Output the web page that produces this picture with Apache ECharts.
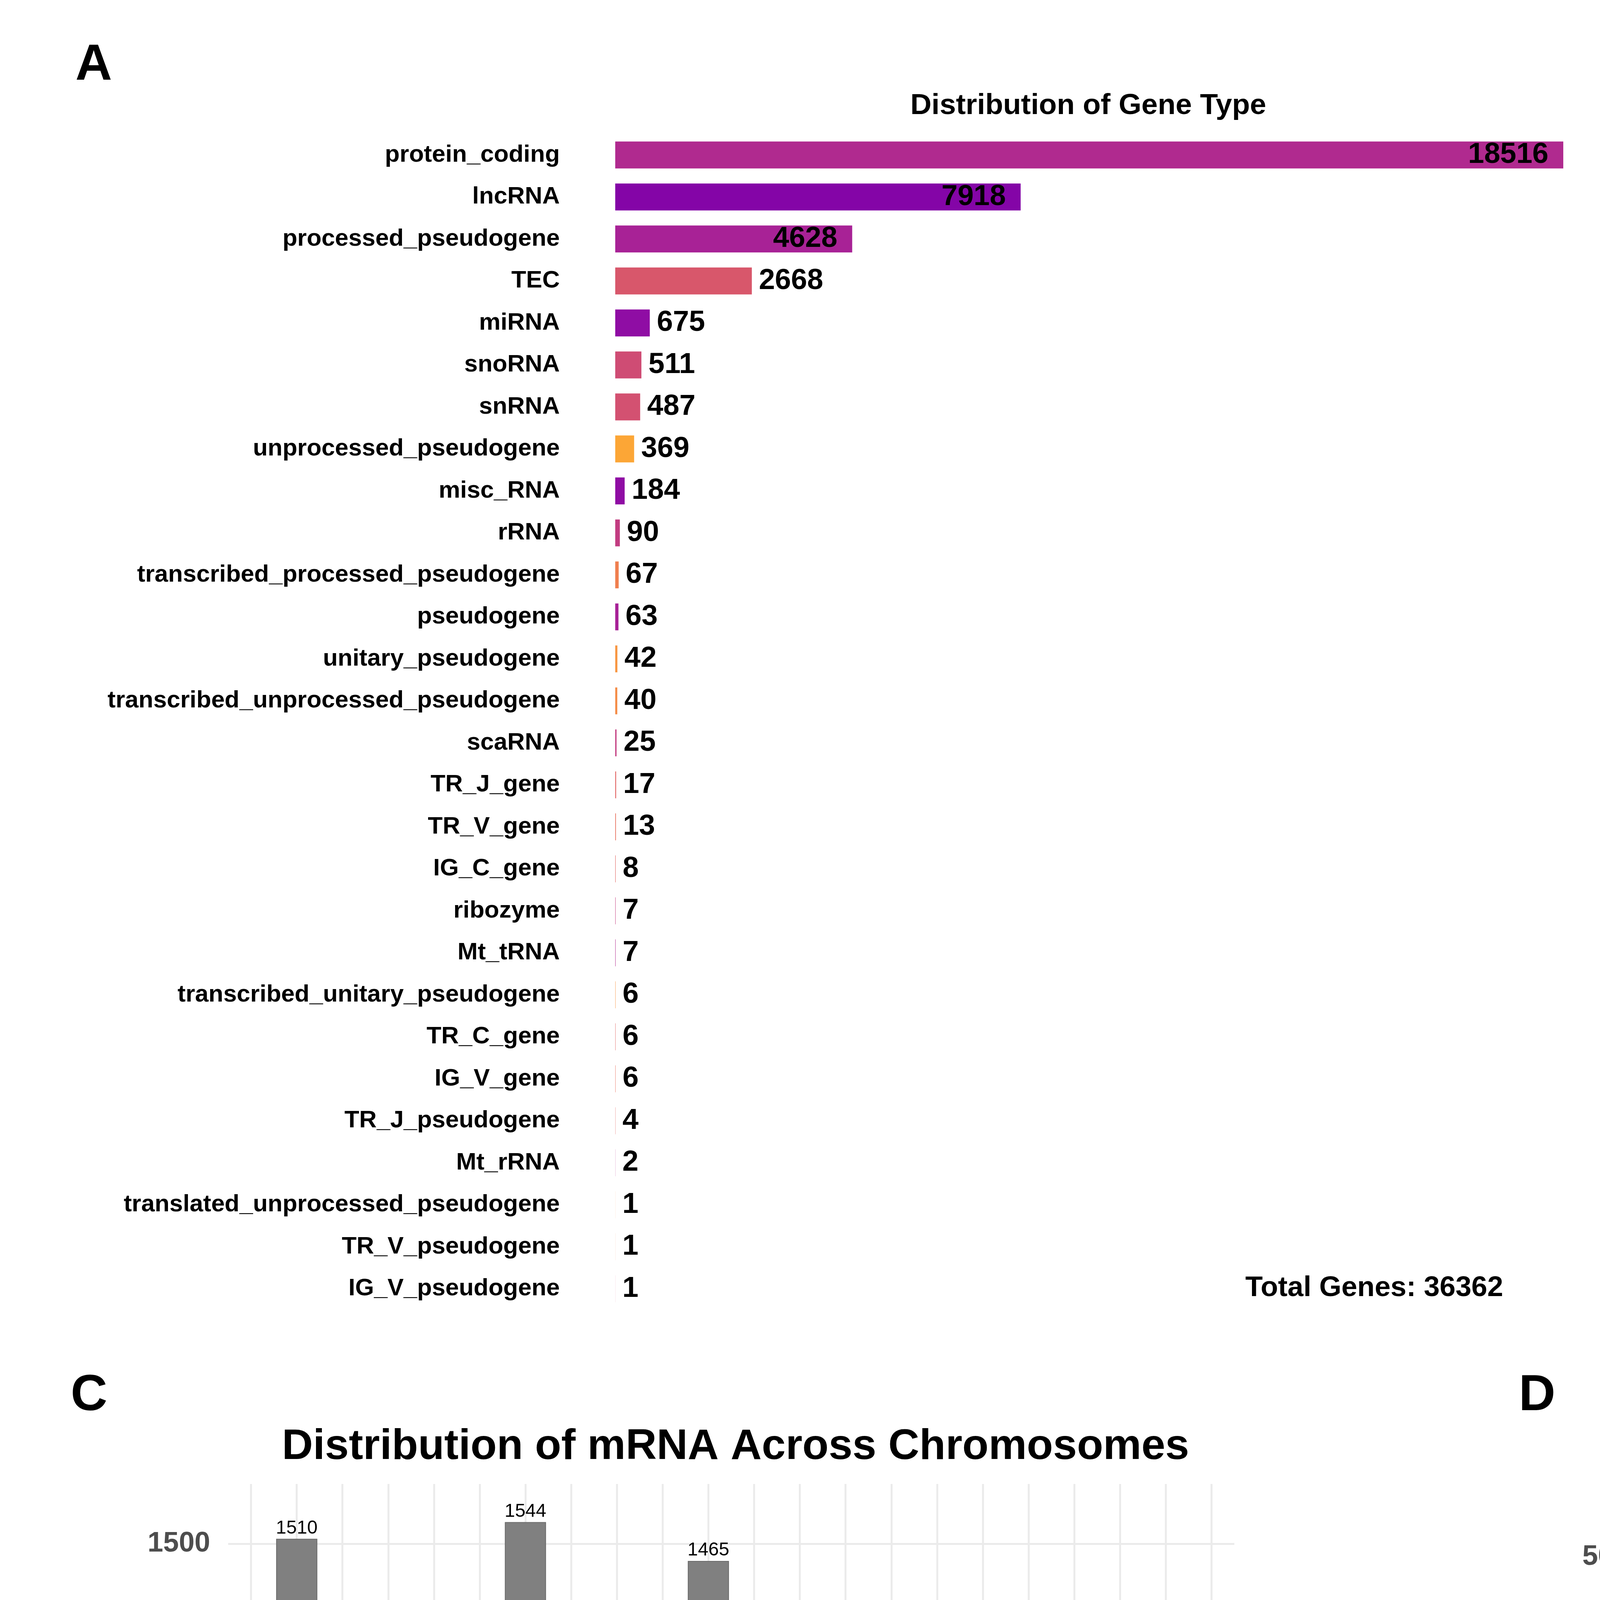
<!DOCTYPE html>
<html>
<head>
<meta charset="utf-8">
<script src="https://cdn.jsdelivr.net/npm/echarts@6/dist/echarts.min.js"></script>
<style>
html, body { margin: 0; padding: 0; background: #fff; }
#chart { width: 7500px; height: 6337px; }
</style>
</head>
<body>
<div id="chart"></div>
<script>
// panel A: every gene type
const typeNames = ['protein_coding', 'lncRNA', 'processed_pseudogene', 'TEC', 'miRNA', 'snoRNA', 'snRNA',
  'unprocessed_pseudogene', 'misc_RNA', 'rRNA', 'transcribed_processed_pseudogene', 'pseudogene',
  'unitary_pseudogene', 'transcribed_unprocessed_pseudogene', 'scaRNA', 'TR_J_gene', 'TR_V_gene',
  'IG_C_gene', 'ribozyme', 'Mt_tRNA', 'transcribed_unitary_pseudogene', 'TR_C_gene', 'IG_V_gene',
  'TR_J_pseudogene', 'Mt_rRNA', 'translated_unprocessed_pseudogene', 'TR_V_pseudogene', 'IG_V_pseudogene'];
const typeCounts = [18516, 7918, 4628, 2668, 675, 511, 487, 369, 184, 90, 67, 63, 42, 40, 25, 17, 13,
  8, 7, 7, 6, 6, 6, 4, 2, 1, 1, 1];
const typeColors = ['#B02A8F', '#8405A7', '#A82296', '#D8576B', '#8F0DA4', '#CF4C74', '#D35171',
  '#FCA636', '#8F0DA4', '#C23C81', '#F07F4F', '#A72197', '#F89540', '#F58C46', '#C33D80', '#E16462',
  '#E76F5A', '#E16462', '#C33D80', '#B02A8F', '#F89540', '#E16462', '#E76F5A', '#E16462', '#B02A8F',
  '#F58C46', '#E76F5A', '#D8576B'];

// panel B: grouped types
const groupNames = ['mRNA', 'lncRNA', 'Pseudogenes', 'TEC', 'Other Non-Coding RNA', 'miRNA'];
const groupCounts = [18572, 7918, 5216, 2668, 1313, 675];
const groupColors = ['#BD3786', '#6A00A8', '#F07F55', '#FBA535', '#D8576B', '#9C179E'];
const totalGenes = 36362;

// panels C and D: per chromosome
const chromosomes = ['chr1', 'chr2', 'chr3', 'chr4', 'chr5', 'chr6', 'chr7', 'chr8', 'chr9', 'chr10',
  'chr11', 'chr12', 'chr13', 'chr14', 'chr15', 'chr16', 'chr17', 'chr18', 'chr19', 'chrX', 'chrY', 'chrM'];
const mrnaCounts = [1114, 1510, 883, 1130, 1114, 967, 1544, 932, 1038, 862, 1465, 601, 699, 705, 718,
  574, 922, 474, 639, 663, 6, 12];
const lncCounts = [516, 524, 465, 377, 501, 403, 523, 456, 491, 435, 465, 426, 447, 346, 327, 232,
  371, 253, 238, 117, 5, 0];
const mrnaTicks = [0, 500, 1000, 1500];
const mrnaMinor = [250, 750, 1250];
const lncTicks = [0, 100, 200, 300, 400, 500];
const lncMinor = [50, 150, 250, 350, 450, 550];

const FONT = "'Liberation Sans', Arial, sans-serif";

var chart = echarts.init(document.getElementById('chart'));

function txt(x, y, text, size, weight, align) {
  return {
    type: 'text', x: x, y: y, silent: true,
    style: {
      text: text, fontSize: size, fontWeight: weight || 'bold', fontFamily: FONT,
      fill: '#000', align: align || 'center', verticalAlign: 'middle'
    }
  };
}

// ggplot style background grid, drawn under the bars
function gridLines(major, minor) {
  var majorStyle = { color: '#EBEBEB', width: 5, type: 'solid' };
  var minorStyle = { color: '#F2F2F2', width: 2.5, type: 'solid' };
  return {
    silent: true, symbol: 'none', z: 1, animation: false,
    label: { show: false },
    data: major.map(v => ({ yAxis: v, lineStyle: majorStyle }))
      .concat(minor.map(v => ({ yAxis: v, lineStyle: minorStyle })))
      .concat(chromosomes.map(c => ({ xAxis: c, lineStyle: majorStyle })))
  };
}

function chromAxes(gridIndex, nameGapX, nameGapY, yMarginLabel) {
  return {
    x: {
      type: 'category', gridIndex: gridIndex, data: chromosomes,
      axisLine: { show: false }, axisTick: { show: false }, splitLine: { show: false },
      axisLabel: { rotate: 45, fontSize: 64, fontWeight: 'bold', color: '#4D4D4D', margin: 50, fontFamily: FONT },
      name: 'Chromosome', nameLocation: 'middle', nameGap: nameGapX,
      nameTextStyle: { fontSize: 86, fontWeight: 'bold', color: '#000', fontFamily: FONT }
    },
    y: {
      type: 'value', gridIndex: gridIndex,
      axisLine: { show: false }, axisTick: { show: false }, splitLine: { show: false },
      axisLabel: {
        fontSize: 72, fontWeight: 'bold', color: '#4D4D4D', margin: yMarginLabel, fontFamily: FONT,
        formatter: v => String(v)
      },
      name: 'Number of Genes', nameLocation: 'middle', nameRotate: 90, nameGap: nameGapY,
      nameTextStyle: { fontSize: 85, fontWeight: 'bold', color: '#000', fontFamily: FONT }
    }
  };
}

var maxType = Math.max(...typeCounts);
var maxGroup = Math.max(...groupCounts);
var maxMrna = Math.max(...mrnaCounts);
var maxLnc = Math.max(...lncCounts);

var axC = chromAxes(2, 228, 231, 46);
axC.y.min = -0.05 * maxMrna;
axC.y.max = 1.05 * maxMrna;
axC.y.axisLabel.customValues = mrnaTicks;
var axD = chromAxes(3, 222, 180, 43);
axD.y.min = -0.05 * maxLnc;
axD.y.max = 1.05 * maxLnc;
axD.y.axisLabel.customValues = lncTicks;

var option = {
  animation: false,
  backgroundColor: '#fff',
  textStyle: { fontFamily: FONT },
  grid: [
    { left: 1575, top: 343, width: 2427, height: 3010 },
    { left: 5025, top: 378, width: 2312, height: 2850 },
    { left: 584, top: 3799, width: 2576, height: 2143 },
    { left: 4214, top: 3799, width: 2622, height: 2149 }
  ],
  xAxis: [
    { type: 'value', gridIndex: 0, min: 0, max: maxType, show: false },
    { type: 'value', gridIndex: 1, min: 0, max: maxGroup, show: false },
    axC.x, axD.x
  ],
  yAxis: [
    {
      type: 'category', gridIndex: 0, data: typeNames, inverse: true,
      axisLine: { show: false }, axisTick: { show: false },
      axisLabel: { fontSize: 62, fontWeight: 'bold', color: '#000', margin: 142, fontFamily: FONT }
    },
    {
      type: 'category', gridIndex: 1, data: groupNames, inverse: true,
      axisLine: { show: false }, axisTick: { show: false },
      axisLabel: { fontSize: 60, fontWeight: 'bold', color: '#000', margin: 137, fontFamily: FONT }
    },
    axC.y, axD.y
  ],
  legend: [
    {
      data: ['mRNA'], left: 3278, top: 4882, orient: 'vertical', padding: 0,
      itemWidth: 97, itemHeight: 96, icon: 'rect', selectedMode: false,
      textStyle: { fontSize: 72, color: '#000', fontFamily: FONT, padding: [0, 0, 0, 32] }
    },
    {
      data: ['lncRNA'], left: 6958, top: 4882, orient: 'vertical', padding: 0,
      itemWidth: 97, itemHeight: 96, icon: 'rect', selectedMode: false,
      textStyle: { fontSize: 72, color: '#000', fontFamily: FONT, padding: [0, 0, 0, 32] }
    }
  ],
  series: [
    {
      type: 'bar', name: 'Gene types', xAxisIndex: 0, yAxisIndex: 0, barCategoryGap: '36%',
      data: typeCounts.map((v, i) => ({
        value: v,
        itemStyle: { color: typeColors[i] },
        label: v / maxType > 0.2 ? { position: 'insideRight', distance: 38 } : { position: 'right', distance: 18 }
      })),
      label: { show: true, fontSize: 74, fontWeight: 'bold', color: '#000', fontFamily: FONT }
    },
    {
      type: 'bar', name: 'Gene groups', xAxisIndex: 1, yAxisIndex: 1, barCategoryGap: '31%',
      data: groupCounts.map((v, i) => ({
        value: v,
        itemStyle: { color: groupColors[i] },
        label: v / maxGroup > 0.2 ? { position: 'insideRight', distance: 18 } : { position: 'right', distance: 22 }
      })),
      label: { show: true, fontSize: 71, fontWeight: 'bold', color: '#000', fontFamily: FONT }
    },
    {
      type: 'bar', name: 'mRNA', xAxisIndex: 2, yAxisIndex: 2, data: mrnaCounts, barCategoryGap: '10%',
      itemStyle: { color: '#808080', borderColor: '#6A6A6A', borderWidth: 2 },
      label: { show: true, position: 'top', distance: 3, fontSize: 48, color: '#000', fontFamily: FONT },
      markLine: gridLines(mrnaTicks, mrnaMinor)
    },
    {
      type: 'bar', name: 'lncRNA', xAxisIndex: 3, yAxisIndex: 3, data: lncCounts, barCategoryGap: '10%',
      itemStyle: { color: '#808080', borderColor: '#6A6A6A', borderWidth: 2 },
      label: { show: true, position: 'top', distance: 3, fontSize: 48, color: '#000', fontFamily: FONT },
      markLine: gridLines(lncTicks, lncMinor)
    }
  ],
  graphic: [
    txt(240, 168, 'A', 130),
    txt(4240, 168, 'B', 130),
    txt(228, 3574, 'C', 130),
    txt(3935, 3574, 'D', 130),
    txt(2786, 271, 'Distribution of Gene Type', 75),
    txt(6181, 271, 'Distribution of Gene Type', 74),
    txt(1883, 3705, 'Distribution of mRNA Across Chromosomes', 110),
    txt(5545, 3705, 'Distribution of lncRNA Across Chromosomes', 110),
    txt(3518, 3298, 'Total Genes: ' + totalGenes, 73),
    txt(6878, 2992, 'Total Genes: ' + totalGenes, 71),
    txt(3278, 4805, 'Gene_Type', 85, 'bold', 'left'),
    txt(6954, 4810, 'Gene_Type', 85, 'bold', 'left')
  ]
};

chart.setOption(option);
</script>
</body>
</html>
